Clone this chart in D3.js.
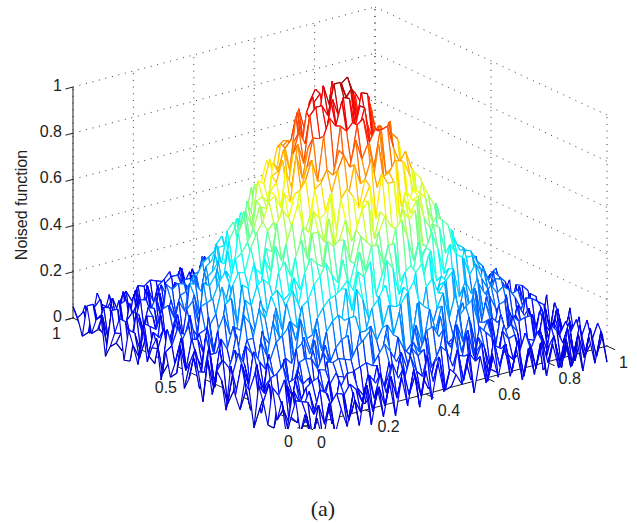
<!DOCTYPE html>
<html>
<head>
<meta charset="utf-8">
<script src="https://d3js.org/d3.v7.min.js"></script>
<style>
body { margin: 0; background: #fff; }
text { font-family: "Liberation Sans", sans-serif; fill: #222; }
</style>
</head>
<body>
<div id="chart"></div>
<script>
// tick labels
const xTicks = [0, 0.2, 0.4, 0.6, 0.8, 1];
const yTicks = [0, 0.5, 1];
const zTicks = [0, 0.2, 0.4, 0.6, 0.8, 1];

// noised heights x100, read by eye. rows run along x, columns along y
const zRows = [
[5,-4,9,1,-8,6,-3,10,-7,2,8,-11,4,7,-6,-1,11,-9,3,6,-5,9,-10,2,7,-3,-8,10,1,-6,4,-9,8,3,-4,11,-7,0,6,-8,9,2,-5,-10,7,4,-3,8,-6,1,5],
[-6,3,8,-2,10,-7,1,6,-9,9,4,-3,11,-6,2,12,-1,5,-8,10,7,-4,13,1,-7,9,3,-2,11,-5,6,12,-8,2,8,-3,10,-6,4,-9,7,1,-4,9,-7,5,-2,8,-5,3,-3],
[2,-8,7,4,-3,9,-6,12,1,-4,10,6,-7,13,2,-2,9,14,-3,6,1,12,-5,8,15,-1,4,11,-6,9,13,0,-4,10,5,-7,8,2,-5,11,-2,6,-8,9,3,-6,7,-3,5,-7,4],
[-9,6,1,10,-4,3,12,-2,8,-5,11,3,14,-1,7,16,0,9,-3,13,5,-2,15,8,1,17,-1,10,4,14,-3,9,12,1,-2,13,6,-4,10,2,-6,9,4,-5,11,-3,6,-7,8,0,-5],
[7,-3,11,0,-5,9,3,13,-2,6,14,1,8,16,-1,11,4,-2,15,7,18,2,10,-1,16,6,20,3,11,-2,17,8,1,13,5,-3,14,0,9,12,-4,7,2,10,-5,8,-2,6,-6,4,8],
[-7,5,9,-2,3,11,-4,8,13,0,6,15,2,-3,12,7,18,3,11,16,1,9,19,5,22,8,2,15,12,21,4,10,17,-1,13,6,15,2,-2,11,8,-3,12,1,-4,9,3,-5,7,2,-4],
[3,9,-5,7,1,12,-2,10,4,15,7,0,14,9,19,3,11,21,6,16,10,24,5,17,13,25,8,19,3,22,15,6,20,11,1,17,9,13,4,-2,14,6,11,-3,8,2,-4,10,0,-5,6],
[-5,8,2,-3,11,5,14,-1,9,16,4,18,11,7,21,13,25,8,17,28,12,20,29,15,10,27,19,30,13,23,16,28,9,21,25,12,18,7,14,20,3,11,-2,13,5,-3,9,-6,7,1,-4],
[9,-4,6,11,-2,8,13,2,-1,15,6,20,12,4,24,9,18,27,13,23,30,14,26,19,33,15,31,22,17,29,12,26,21,10,24,7,19,14,3,17,10,2,13,-3,11,6,-4,9,-5,7,3],
[-6,4,10,-3,7,12,1,15,3,10,17,6,21,13,8,25,18,12,28,32,17,26,34,20,31,24,36,19,29,33,16,30,14,25,20,11,24,16,4,19,7,14,-1,11,5,-2,10,-5,8,2,-3],
[10,-2,7,-4,12,3,9,14,1,16,5,20,13,9,26,16,23,30,18,34,26,21,36,24,41,28,35,26,39,23,32,22,31,14,26,19,11,24,8,18,4,15,9,-1,13,3,-3,10,-4,8,2],
[-7,9,1,6,12,-1,8,15,3,11,18,9,23,12,17,30,20,35,24,29,40,27,33,43,28,37,45,30,41,34,27,39,21,33,28,17,25,12,22,8,16,10,3,12,7,-2,10,1,-5,7,-2],
[8,-3,12,2,-2,11,5,14,8,17,9,22,13,26,18,32,24,28,39,31,44,35,49,37,46,34,51,38,45,36,47,29,42,31,25,33,18,26,11,20,13,7,16,3,9,-1,12,2,-4,9,3],
[-5,7,1,10,-3,12,6,13,4,20,11,26,17,30,22,38,25,41,33,46,37,50,42,57,44,52,55,43,50,39,53,34,47,30,40,23,36,28,15,25,10,18,6,14,1,11,-3,9,-5,8,-1],
[9,-2,11,6,0,13,3,18,7,21,12,28,22,33,26,41,30,47,35,53,43,58,49,62,47,55,63,46,59,50,41,54,36,49,30,42,24,33,17,27,11,19,6,14,2,9,-3,11,-2,7,5],
[-6,10,2,-1,12,11,3,20,16,8,27,25,18,34,31,46,36,44,56,44,57,66,53,58,68,52,65,66,51,57,59,47,57,38,39,45,29,33,17,29,21,11,20,7,13,-1,7,11,-1,2,6],
[10,0,14,7,0,15,8,23,8,21,27,16,37,36,31,40,54,42,56,64,54,52,70,68,63,76,59,69,71,56,60,66,49,41,50,43,28,39,33,18,30,17,11,22,5,12,-2,6,11,0,9],
[-3,12,7,0,12,19,9,7,24,21,15,37,27,39,47,36,51,62,51,60,72,60,74,69,83,68,64,78,72,75,57,64,53,62,41,45,47,30,35,25,33,13,21,7,20,9,-2,11,1,11,1],
[12,0,6,14,1,15,22,10,17,30,18,32,43,34,34,54,53,49,71,62,74,63,82,78,72,86,81,66,81,71,62,74,56,61,44,58,41,32,42,30,16,27,15,21,6,13,14,-3,8,0,9],
[-5,8,15,4,15,10,4,24,22,33,22,23,40,50,44,44,61,69,55,70,79,74,72,90,85,77,90,85,71,80,81,62,66,71,52,43,52,43,29,40,24,28,11,24,14,4,16,4,-2,9,-1],
[10,-2,8,17,7,4,19,19,31,19,33,24,46,41,55,57,51,73,64,79,76,71,91,89,82,97,84,78,94,83,70,78,77,58,62,45,49,50,34,25,38,23,12,23,5,16,15,3,13,-2,6],
[-3,15,5,13,18,6,13,28,14,29,37,29,31,51,52,65,55,69,68,85,86,76,98,87,85,100,93,96,80,94,76,80,79,58,66,54,61,39,41,26,36,29,15,27,11,4,13,8,0,13,0],
[12,3,-1,15,13,22,10,10,30,28,25,46,39,51,45,68,67,63,81,79,74,95,94,103,90,100,86,102,95,81,94,78,67,76,65,52,62,43,46,27,33,35,17,22,22,3,10,16,2,4,7],
[-1,13,10,0,19,11,22,13,34,23,24,42,51,42,55,51,73,75,72,90,79,92,104,88,103,95,107,86,98,97,84,74,85,73,60,70,51,41,47,45,23,31,23,27,8,15,15,-2,9,14,-1],
[8,-2,16,10,5,20,13,30,15,33,34,30,51,45,61,62,58,83,73,81,95,95,88,104,95,108,98,89,101,102,82,85,71,81,70,52,61,47,35,41,41,19,21,13,21,8,15,-2,8,13,-2],
[5,-1,13,12,6,21,14,12,29,37,26,39,34,56,56,57,77,70,70,87,97,91,89,103,101,108,93,101,86,98,85,92,79,66,71,52,61,51,38,45,28,20,23,29,11,18,2,8,15,0,6],
[0,14,6,2,20,16,8,26,26,19,39,41,37,59,52,53,72,74,87,76,86,100,100,89,105,101,106,93,105,84,91,93,71,72,73,69,46,51,38,44,26,27,29,12,12,16,2,15,9,2,11],
[12,0,10,18,3,14,23,16,15,33,42,34,35,50,62,51,72,75,68,91,91,84,93,104,89,102,108,94,87,96,89,74,85,67,68,67,50,39,48,38,40,21,21,25,6,15,11,-1,13,5,9],
[-5,11,9,3,21,10,7,26,24,36,26,34,49,40,57,65,55,80,72,72,90,89,85,103,98,86,100,102,88,90,76,89,81,67,55,66,54,41,51,32,29,35,16,22,18,2,13,14,1,10,1],
[10,7,-2,17,8,19,10,9,30,29,24,44,36,38,60,58,67,59,78,74,91,78,89,81,100,96,86,99,78,88,87,72,64,74,64,47,59,46,33,39,39,23,14,24,14,6,15,4,9,-2,9],
[-2,14,10,0,17,11,24,11,18,33,31,24,44,44,40,63,62,59,77,66,81,91,78,88,79,95,85,94,89,71,83,74,62,73,55,62,46,34,43,40,23,24,29,10,13,7,17,-1,7,1,7],
[10,-3,7,14,5,21,6,20,28,14,32,33,30,50,43,43,63,65,56,75,74,70,90,76,86,81,91,72,86,81,65,71,74,55,55,58,41,51,28,34,33,19,11,25,13,14,1,7,14,-1,7],
[-1,14,-2,9,17,2,17,23,16,14,35,27,28,42,52,41,53,63,53,68,78,67,66,83,80,83,70,86,74,66,77,61,64,48,58,50,52,31,31,34,26,14,26,16,5,18,3,-4,7,11,1],
[12,2,10,-1,14,11,5,25,14,22,15,35,34,31,50,38,48,60,61,53,70,69,61,80,70,82,67,73,77,57,68,54,66,56,44,52,32,37,37,18,29,27,12,14,9,15,-1,11,-1,7,9],
[-2,11,8,-3,11,17,5,15,25,12,27,22,21,43,38,35,52,40,55,64,55,68,66,58,77,60,70,71,55,66,66,53,44,58,47,36,45,31,20,31,25,12,22,12,1,9,12,0,12,0,2],
[9,-2,5,14,3,0,16,14,8,27,17,28,17,38,36,32,50,37,47,58,57,47,65,64,54,69,59,69,53,57,46,56,50,36,48,33,40,38,19,26,15,26,4,14,2,14,7,-3,9,5,-1],
[-5,11,2,10,15,2,1,15,21,6,24,22,17,36,27,39,47,34,42,53,40,54,62,50,61,46,57,62,48,61,49,39,49,43,28,42,28,32,17,25,27,9,11,18,-1,8,11,-3,6,12,-2],
[8,-5,4,11,0,11,17,3,14,22,10,28,18,16,34,31,24,42,42,36,52,38,49,56,45,40,56,51,39,55,41,47,31,37,42,24,32,16,24,25,12,22,3,12,2,16,-1,4,-5,7,8],
[-4,7,12,-4,8,13,-2,14,11,5,24,12,24,13,26,35,24,29,42,30,42,49,34,43,51,40,34,48,43,32,45,31,44,34,21,32,23,15,27,20,7,17,6,17,-3,8,11,-3,6,-4,7],
[9,-3,5,9,-4,9,15,1,7,17,3,19,19,11,30,19,31,19,30,40,27,37,27,43,41,32,45,38,29,40,42,27,21,32,26,16,28,21,7,20,9,16,3,9,15,0,-4,9,3,-5,5],
[-6,8,11,-1,6,-4,12,9,2,18,5,13,22,9,23,17,31,17,27,18,35,33,23,37,30,41,25,34,39,24,19,34,26,17,30,16,20,24,7,17,13,0,14,7,-2,12,-1,9,-6,6,-1],
[7,-2,-6,10,5,-2,13,3,12,0,19,9,18,7,18,26,14,21,13,30,29,18,36,25,34,21,31,35,21,27,34,18,20,27,11,21,21,7,14,19,5,12,-2,11,2,-3,11,-3,5,-5,6],
[-4,9,4,-5,9,0,13,-3,7,14,2,12,20,3,17,13,23,11,24,29,17,14,29,26,15,32,27,18,30,20,26,12,28,19,10,23,9,15,2,16,5,12,-4,9,4,-4,11,0,-5,9,-2],
[8,-5,4,11,-5,5,-1,12,6,-2,13,5,18,4,10,20,16,6,21,24,10,22,27,15,22,29,13,26,16,9,23,25,10,16,5,19,13,5,18,1,10,-1,12,0,-4,9,3,-7,5,-4,3],
[-5,6,-7,8,4,-3,12,1,-3,12,8,0,14,0,11,19,7,17,5,21,15,9,24,13,22,7,20,23,10,17,6,22,11,5,17,13,1,13,8,0,12,0,5,-4,11,-3,4,-7,7,2,-5],
[6,-6,9,2,-5,9,-7,7,11,1,-2,14,8,-2,13,6,16,3,19,14,3,17,9,21,7,23,12,6,18,15,4,18,6,18,3,6,15,7,-2,11,1,11,-5,7,10,-5,3,-8,6,-2,8],
[-8,7,-3,10,-6,3,9,-4,4,11,-1,13,-2,8,14,-1,11,6,16,3,15,11,3,20,8,17,2,18,13,3,18,5,12,0,16,5,11,-4,11,5,-3,12,-1,7,-6,4,8,-5,3,-8,4],
[6,-4,9,-7,4,8,-5,11,0,-4,8,11,-5,6,1,14,7,0,13,5,17,3,11,1,16,13,2,18,8,0,13,11,-2,13,2,13,-1,6,11,-5,7,-2,11,-4,2,-8,7,4,-6,6,-6],
[-6,8,-4,2,9,-8,5,-2,10,3,-7,9,1,-5,11,4,-3,12,-6,7,2,13,-4,9,-2,6,14,-5,8,1,-3,11,-6,4,10,-7,6,2,-5,9,-8,7,3,-6,9,-2,-8,6,2,-7,5],
[7,-5,1,9,-8,4,-2,7,-9,5,10,-3,6,-7,9,2,-5,11,0,-8,8,3,-6,12,-2,5,-7,10,1,-9,9,4,-5,7,-3,-8,10,0,6,-6,4,-8,9,-2,-5,7,1,-7,8,-4,3],
[-7,4,8,-5,2,-9,7,-3,9,-6,1,6,-8,10,-4,3,-9,8,-1,5,-6,9,-10,4,7,-5,2,-8,10,-3,-9,6,1,-7,9,-4,5,-10,3,8,-6,2,-8,7,-1,-5,9,-3,-9,4,6]
];

const width = 637, height = 523;
const originX = 305, originY = 426; // front corner of the box

const svg = d3.select("#chart").append("svg")
    .attr("width", width)
    .attr("height", height);

// each data axis moves the screen point along its own direction
const xToDx = d3.scaleLinear().domain([0, 1]).range([0, 302]);
const xToDy = d3.scaleLinear().domain([0, 1]).range([0, -80]);
const yToDx = d3.scaleLinear().domain([0, 1]).range([0, -232]);
const yToDy = d3.scaleLinear().domain([0, 1]).range([0, -108]);
const zToDy = d3.scaleLinear().domain([0, 1]).range([0, -231]);

const project = (x, y, z) => [
    originX + xToDx(x) + yToDx(y),
    originY + xToDy(x) + yToDy(y) + zToDy(z)
];

const jet = d3.scaleLinear()
    .domain([-0.1, 0.05, 0.35, 0.65, 0.95, 1.1])
    .range(["#00008f", "#0000ff", "#00ffff", "#ffff00", "#ff0000", "#800000"])
    .clamp(true);

const segment = d3.line();

function drawLine(parent, a, b) {
    return parent.append("path").attr("d", segment([project(...a), project(...b)]));
}

// dotted grid on the two back walls
const grid = svg.append("g")
    .attr("fill", "none")
    .attr("stroke", "#222")
    .attr("stroke-width", 0.9)
    .attr("stroke-dasharray", "1 5.7");

zTicks.forEach(z => {
    drawLine(grid, [0, 1, z], [1, 1, z]);
    drawLine(grid, [1, 1, z], [1, 0, z]);
});
xTicks.forEach(x => drawLine(grid, [x, 1, 0], [x, 1, 1]));
yTicks.forEach(y => drawLine(grid, [1, y, 0], [1, y, 1]));

// axis lines and ticks
const axes = svg.append("g")
    .attr("fill", "none")
    .attr("stroke", "#222")
    .attr("stroke-width", 1);

drawLine(axes, [0, 0, 0], [1, 0, 0]);
drawLine(axes, [0, 0, 0], [0, 1, 0]);
drawLine(axes, [0, 1, 0], [0, 1, 1]);

const xTickLen = -0.035, yTickLen = -0.025;
xTicks.forEach(x => drawLine(axes, [x, 0, 0], [x, xTickLen, 0]));
yTicks.forEach(y => drawLine(axes, [0, y, 0], [yTickLen, y, 0]));
zTicks.forEach(z => drawLine(axes, [0, 1, z], [yTickLen, 1, z]));

// mesh, painted from the back corner forward so near cells hide far ones
svg.append("clipPath").attr("id", "box")
    .append("rect")
    .attr("width", width)
    .attr("height", 429);

const nx = zRows.length, ny = d3.min(zRows, r => r.length);
const gridX = d3.scaleLinear().domain([0, nx - 1]).range([0, 1]);
const gridY = d3.scaleLinear().domain([0, ny - 1]).range([0, 1]);
const vertex = (i, j) => [gridX(i), gridY(j), zRows[i][j] / 100];

const cells = [];
for (let i = 0; i < nx - 1; i++) {
    for (let j = 0; j < ny - 1; j++) {
        cells.push({ i, j, depth: gridX(i) * 80 + gridY(j) * 108 });
    }
}
cells.sort((a, b) => d3.descending(a.depth, b.depth));

const mesh = svg.append("g")
    .attr("clip-path", "url(#box)")
    .attr("fill", "none")
    .attr("stroke-width", 1.15)
    .attr("stroke-linejoin", "round");

mesh.selectAll("g")
    .data(cells)
    .join("g")
    .each(function (d) {
        const g = d3.select(this);
        const corners = [
            vertex(d.i, d.j), vertex(d.i + 1, d.j),
            vertex(d.i + 1, d.j + 1), vertex(d.i, d.j + 1)
        ];
        g.append("path")
            .attr("d", segment(corners.map(c => project(...c))) + "Z")
            .attr("fill", "#fff")
            .attr("stroke", "none");
        corners.forEach((c, k) => {
            const next = corners[(k + 1) % 4];
            drawLine(g, c, next).attr("stroke", jet((c[2] + next[2]) / 2));
        });
    });

// tick labels
const labels = svg.append("g").attr("font-size", 16);

labels.selectAll(".zlabel")
    .data(zTicks)
    .join("text")
    .attr("class", "zlabel")
    .attr("text-anchor", "end")
    .attr("x", d => project(0, 1, d)[0] - 11)
    .attr("y", d => project(0, 1, d)[1] + 4)
    .text(d => d);

labels.selectAll(".xlabel")
    .data(xTicks)
    .join("text")
    .attr("x", d => project(d, 0, 0)[0] + 12)
    .attr("y", d => project(d, 0, 0)[1] + 22)
    .text(d => d);

labels.selectAll(".ylabel")
    .data(yTicks)
    .join("text")
    .attr("class", "ylabel")
    .attr("text-anchor", "end")
    .attr("x", d => project(0, d, 0)[0] - 12)
    .attr("y", d => project(0, d, 0)[1] + 21)
    .text(d => d);

svg.append("text")
    .attr("transform", "translate(27,205) rotate(-90)")
    .attr("text-anchor", "middle")
    .attr("font-size", 16)
    .text("Noised function");

svg.append("text")
    .attr("x", 323)
    .attr("y", 516)
    .attr("text-anchor", "middle")
    .style("font-family", "'Liberation Serif', serif")
    .attr("font-size", 22)
    .text("(a)");
</script>
</body>
</html>
